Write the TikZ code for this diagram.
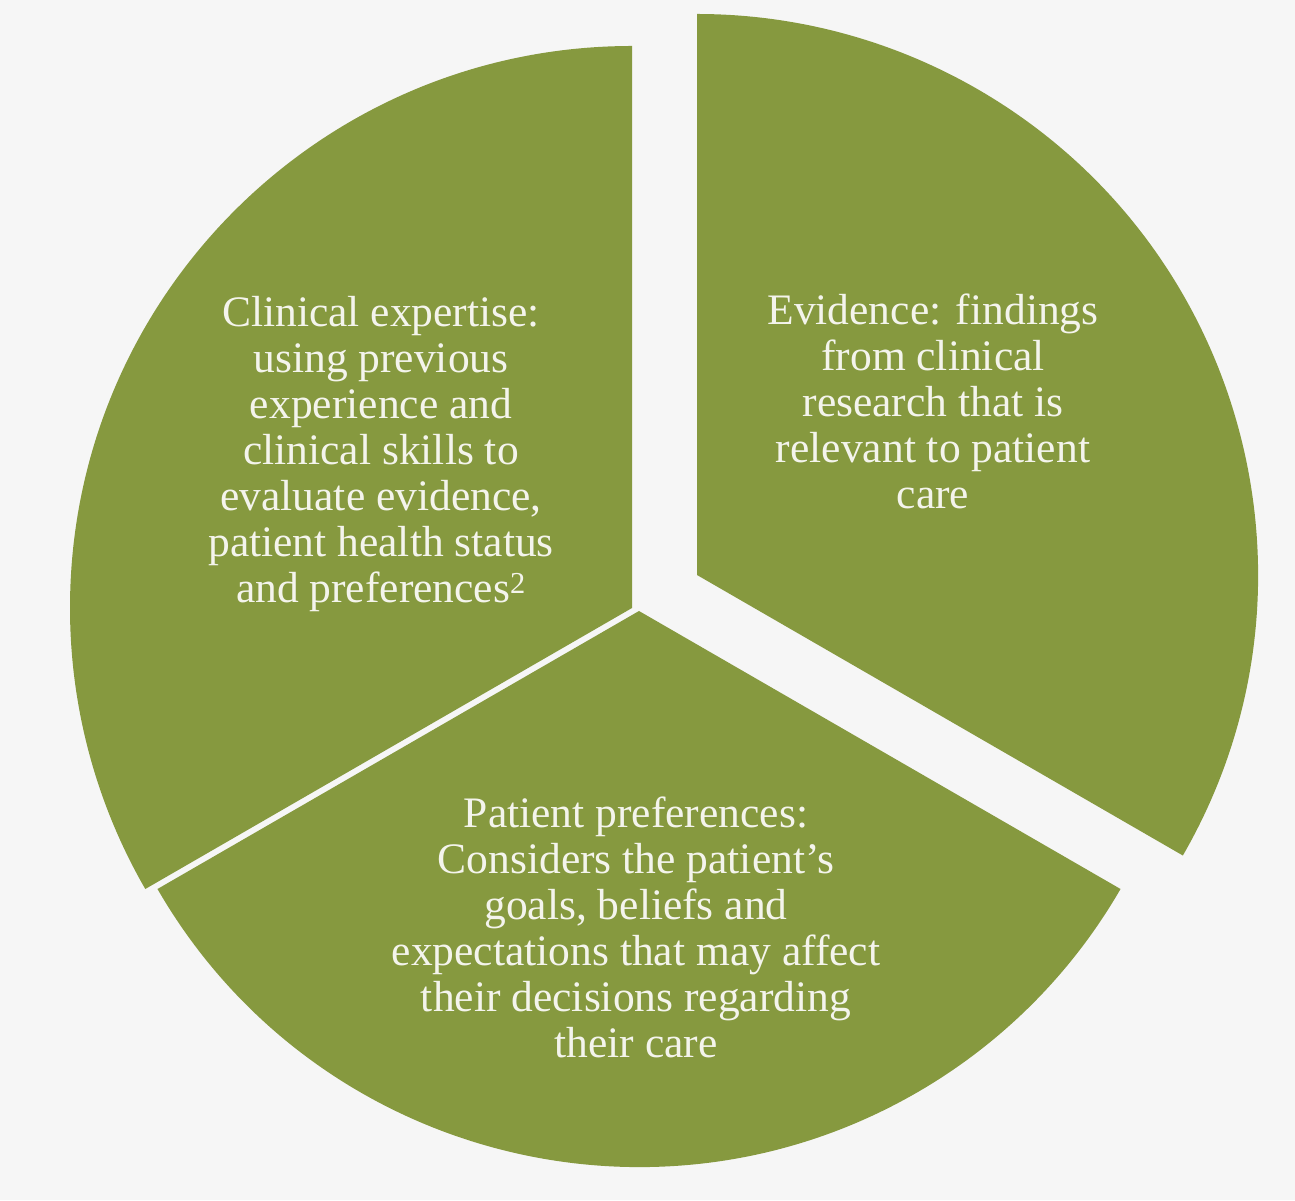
\documentclass[tikz,border=0pt]{standalone}
\usepackage{fontspec}
\setmainfont{Liberation Serif}
\definecolor{bgcol}{RGB}{246,246,246}
\definecolor{piegreen}{RGB}{134,153,63}
\definecolor{txtcol}{RGB}{244,244,236}
\begin{document}
\begin{tikzpicture}[x=1pt,y=1pt,
  segment/.style={fill=piegreen},
  label/.style={text=txtcol, align=center, inner sep=0pt,
    font=\fontsize{43.5}{46}\selectfont}]
\fill[bgcol] (0,0) rectangle (1295,1200);
\useasboundingbox (0,0) rectangle (1295,1200);
% Clinical expertise segment
\fill[segment] (632,592) -- ++(90:562) arc[start angle=90, end angle=210, radius=562] -- cycle;
% Patient preferences segment
\fill[segment] (639,589) -- ++(210:556) arc[start angle=210, end angle=330, radius=556] -- cycle;
% Evidence segment
\fill[segment] (697,625) -- ++(-30:561) arc[start angle=-30, end angle=90, radius=561] -- cycle;
\node[label] (clin) at (381,746) {Clinical expertise:\\using previous\\experience and\\clinical skills to\\evaluate evidence,\\patient health status\\and preferences\textsuperscript{2}};
\node[label] (evid) at (933,798.5) {Evidence: findings\\from clinical\\research that is\\relevant to patient\\care};
\node[label] (pat) at (636,272.5) {Patient preferences:\\Considers the patient’s\\goals, beliefs and\\expectations that may affect\\their decisions regarding\\their care};
\end{tikzpicture}
\end{document}
